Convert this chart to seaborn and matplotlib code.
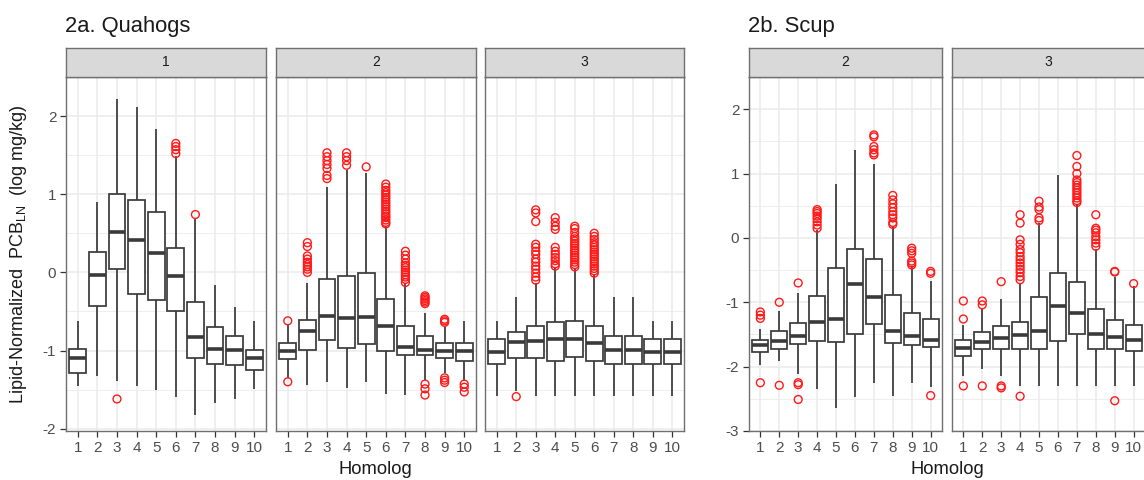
import numpy as np
import pandas as pd
import matplotlib
matplotlib.use("Agg")
import matplotlib.pyplot as plt
import seaborn as sns

# Homolog categories on the x axis
HOMOLOG = list(range(1, 11))

# Box summaries (log mg/kg):
# lower whisker, Q1, median, Q3, upper whisker, and outliers per homolog

# 2a. Quahogs, level 1
qh1_lo = [-1.46, -1.32, -1.39, -1.45, -1.50, -1.60, -1.83, -1.67, -1.62, -1.49]
qh1_q1 = [-1.29, -0.43, 0.04, -0.28, -0.35, -0.50, -1.10, -1.17, -1.19, -1.25]
qh1_med = [-1.10, -0.03, 0.52, 0.41, 0.25, -0.05, -0.83, -0.98, -0.99, -1.09]
qh1_q3 = [-0.985, 0.26, 1.00, 0.93, 0.77, 0.31, -0.38, -0.70, -0.81, -0.99]
qh1_hi = [-0.62, 0.90, 2.22, 2.11, 1.84, 1.49, 0.68, -0.16, -0.44, -0.62]
qh1_out = [[], [], [-1.62], [], [], [1.52, 1.57, 1.61, 1.65], [0.74], [], [], []]

# 2a. Quahogs, level 2
qh2_lo = [-1.35, -1.44, -1.40, -1.48, -1.40, -1.56, -1.57, -1.38, -1.29, -1.39]
qh2_q1 = [-1.11, -0.99, -0.87, -0.97, -0.92, -1.00, -1.06, -1.06, -1.09, -1.13]
qh2_med = [-1.00, -0.75, -0.56, -0.58, -0.57, -0.68, -0.95, -0.99, -1.00, -1.01]
qh2_q3 = [-0.91, -0.61, -0.08, -0.05, -0.01, -0.34, -0.68, -0.81, -0.91, -0.91]
qh2_hi = [-0.67, -0.13, 1.09, 1.31, 1.27, 0.59, -0.15, -0.52, -0.70, -0.62]
qh2_out = [
    [-0.62, -1.40],
    [0.38, 0.33, 0.21, 0.17, 0.13, 0.10, 0.07, 0.04, 0.00],
    [1.53, 1.48, 1.43, 1.38, 1.33, 1.24, 1.20],
    [1.53, 1.48, 1.43, 1.37],
    [1.35],
    [1.13, 1.09, 1.05, 1.02, 0.99, 0.96, 0.93, 0.90, 0.87, 0.84, 0.81,
     0.78, 0.75, 0.72, 0.70, 0.67, 0.64, 0.62],
    [0.27, 0.22, 0.17, 0.12, 0.09, 0.06, 0.03, 0.00, -0.03, -0.06, -0.09, -0.13],
    [-0.30, -0.32, -0.34, -0.36, -0.38, -0.40, -1.43, -1.49, -1.57],
    [-0.60, -0.62, -0.64, -1.35, -1.38, -1.41],
    [-1.43, -1.47, -1.53],
]

# 2a. Quahogs, level 3
qh3_lo = [-1.58, -1.52, -1.58, -1.58, -1.58, -1.58, -1.58, -1.58, -1.58, -1.58]
qh3_q1 = [-1.17, -1.09, -1.09, -1.13, -1.08, -1.13, -1.17, -1.17, -1.17, -1.17]
qh3_med = [-1.02, -0.89, -0.88, -0.85, -0.85, -0.90, -0.99, -0.99, -1.02, -1.02]
qh3_q3 = [-0.85, -0.76, -0.68, -0.63, -0.62, -0.68, -0.81, -0.81, -0.85, -0.85]
qh3_hi = [-0.62, -0.32, -0.13, 0.06, 0.04, -0.04, -0.32, -0.32, -0.62, -0.62]
qh3_out = [
    [],
    [-1.59],
    [0.80, 0.76, 0.65, 0.36, 0.32, 0.27, 0.23, 0.17, 0.13, 0.08, 0.04,
     -0.01, -0.06, -0.10],
    [0.70, 0.64, 0.59, 0.55, 0.32, 0.27, 0.23, 0.19, 0.15, 0.11, 0.08],
    [0.59, 0.56, 0.51, 0.46, 0.43, 0.40, 0.37, 0.34, 0.31, 0.28, 0.25,
     0.22, 0.19, 0.16, 0.13, 0.10, 0.07],
    [0.50, 0.46, 0.42, 0.38, 0.35, 0.32, 0.29, 0.26, 0.23, 0.20, 0.17,
     0.14, 0.11, 0.08, 0.05, 0.02, -0.01],
    [], [], [], [],
]

# 2b. Scup, level 2
sc2_lo = [-1.97, -1.91, -2.12, -2.35, -2.64, -2.47, -2.25, -2.45, -2.25, -2.31]
sc2_q1 = [-1.77, -1.73, -1.65, -1.60, -1.62, -1.49, -1.33, -1.63, -1.67, -1.69]
sc2_med = [-1.66, -1.60, -1.52, -1.31, -1.26, -0.72, -0.92, -1.45, -1.52, -1.58]
sc2_q3 = [-1.59, -1.45, -1.32, -0.91, -0.46, -0.17, -0.33, -0.88, -1.16, -1.26]
sc2_hi = [-1.41, -1.14, -0.85, 0.12, 0.84, 1.37, 1.15, 0.18, -0.44, -0.67]
sc2_out = [
    [-1.15, -1.20, -1.25, -2.25],
    [-1.00, -2.29],
    [-0.70, -2.25, -2.28, -2.51],
    [0.44, 0.41, 0.38, 0.34, 0.30, 0.25, 0.20, 0.15],
    [],
    [],
    [1.60, 1.57, 1.42, 1.37, 1.32, 1.29],
    [0.66, 0.59, 0.53, 0.47, 0.41, 0.36, 0.31, 0.24, 0.21],
    [-0.16, -0.20, -0.24, -0.36, -0.39, -0.42],
    [-0.52, -0.55, -2.45],
]

# 2b. Scup, level 3
sc3_lo = [-2.15, -2.03, -2.15, -2.30, -2.30, -2.30, -2.30, -2.30, -2.30, -2.30]
sc3_q1 = [-1.83, -1.72, -1.72, -1.72, -1.72, -1.60, -1.50, -1.72, -1.72, -1.76]
sc3_med = [-1.71, -1.62, -1.55, -1.51, -1.45, -1.06, -1.17, -1.50, -1.54, -1.58]
sc3_q3 = [-1.59, -1.46, -1.37, -1.30, -0.92, -0.55, -0.68, -1.10, -1.28, -1.35]
sc3_hi = [-1.36, -1.11, -0.95, -0.70, 0.23, 0.98, 0.53, -0.18, -0.60, -0.75]
sc3_out = [
    [-0.98, -1.26, -2.30],
    [-0.98, -1.04, -2.30],
    [-0.68, -2.30, -2.33],
    [0.36, 0.23, -0.03, -0.10, -0.18, -0.23, -0.29, -0.34, -0.39, -0.44,
     -0.49, -0.54, -0.60, -0.65, -2.46],
    [0.57, 0.48, 0.44, 0.31, 0.27],
    [],
    [1.28, 1.11, 1.00, 0.90, 0.86, 0.82, 0.78, 0.74, 0.70, 0.66, 0.62, 0.58, 0.55],
    [0.36, 0.15, 0.12, 0.08, 0.02, -0.03, -0.08, -0.13],
    [-0.52, -0.53, -2.53],
    [-0.71],
]

# Style (ggplot theme_bw look)
sns.set_style("white")
plt.rcParams["font.family"] = ["Liberation Sans", "DejaVu Sans"]
plt.rcParams["mathtext.fontset"] = "custom"
plt.rcParams["mathtext.rm"] = "Liberation Sans"
plt.rcParams["mathtext.it"] = "Liberation Sans:italic"

LINE = "#3A3A3A"
BORDER = "#707070"
GRID = "#EBEBEB"
TICKTXT = "#4D4D4D"

W, H = 1144, 480
fig = plt.figure(figsize=(W / 100, H / 100), dpi=100)


def px_axes(x0, x1, y0, y1):
    return fig.add_axes([x0 / W, 1 - y1 / H, (x1 - x0) / W, (y1 - y0) / H])


def draw_panel(x0, x1, lo, q1, med, q3, hi, out, ylim, yticks, label, show_y):
    ax = px_axes(x0, x1, 77, 431)
    hom = np.repeat(HOMOLOG, 5)
    vals = np.column_stack([lo, q1, med, q3, hi]).ravel()
    df = pd.DataFrame({"homolog": hom, "value": vals})
    sns.boxplot(data=df, x="homolog", y="value", ax=ax, native_scale=True,
                whis=np.inf, width=0.85, color="white", linecolor=LINE,
                linewidth=1.25, showfliers=False,
                medianprops={"linewidth": 2.6}, capwidths=0)
    ox = [h for h, pts in zip(HOMOLOG, out) for _ in pts]
    oy = [v for pts in out for v in pts]
    sns.scatterplot(x=ox, y=oy, ax=ax, marker="o", s=32, facecolor="none",
                    edgecolor="#FF1A1A", linewidth=1.0, zorder=3)

    ax.set_xlim(0.4, 10.6)
    ax.set_ylim(*ylim)
    ax.set_xticks(HOMOLOG)
    ax.set_xticklabels([str(h) for h in HOMOLOG])
    ax.set_yticks(yticks)
    ax.set_yticklabels([str(t) for t in yticks])
    ax.set_yticks([t + 0.5 for t in yticks], minor=True)
    ax.set_xlabel("")
    ax.set_ylabel("")
    ax.set_axisbelow(True)
    ax.grid(which="major", color=GRID, linewidth=1.1)
    ax.grid(which="minor", axis="y", color=GRID, linewidth=0.6)
    for s in ax.spines.values():
        s.set_color(BORDER)
        s.set_linewidth(1.0)
    ax.tick_params(which="major", length=4, width=0.9, color="#333333",
                   labelsize=11, labelcolor=TICKTXT, pad=3,
                   bottom=True, left=show_y, labelleft=show_y)
    ax.tick_params(which="minor", length=0)

    st = px_axes(x0, x1, 48, 77)
    st.set_facecolor("#D9D9D9")
    st.set_xticks([])
    st.set_yticks([])
    for s in st.spines.values():
        s.set_color(BORDER)
        s.set_linewidth(1.0)
    st.text(0.5, 0.5, label, ha="center", va="center", fontsize=10,
            color="#1A1A1A", transform=st.transAxes)
    return ax


q_lim = (-2.03, 2.44)
q_ticks = [-2, -1, 0, 1, 2]
draw_panel(66, 266, qh1_lo, qh1_q1, qh1_med, qh1_q3, qh1_hi, qh1_out,
           q_lim, q_ticks, "1", True)
draw_panel(276, 476, qh2_lo, qh2_q1, qh2_med, qh2_q3, qh2_hi, qh2_out,
           q_lim, q_ticks, "2", False)
draw_panel(485, 684, qh3_lo, qh3_q1, qh3_med, qh3_q3, qh3_hi, qh3_out,
           q_lim, q_ticks, "3", False)

s_lim = (-3.0, 2.5)
s_ticks = [-3, -2, -1, 0, 1, 2]
draw_panel(749, 942, sc2_lo, sc2_q1, sc2_med, sc2_q3, sc2_hi, sc2_out,
           s_lim, s_ticks, "2", True)
draw_panel(952, 1145, sc3_lo, sc3_q1, sc3_med, sc3_q3, sc3_hi, sc3_out,
           s_lim, s_ticks, "3", False)

# Titles and axis labels
fig.text(65 / W, 1 - 32 / H, "2a. Quahogs", fontsize=15.8, color="#1A1A1A",
         ha="left", va="baseline")
fig.text(748 / W, 1 - 32 / H, "2b. Scup", fontsize=15.8, color="#1A1A1A",
         ha="left", va="baseline")
fig.text(375 / W, 1 - 469 / H, "Homolog", fontsize=13.2, color="#1A1A1A",
         ha="center", va="center")
fig.text(947 / W, 1 - 469 / H, "Homolog", fontsize=13.2, color="#1A1A1A",
         ha="center", va="center")
fig.text(19 / W, 1 - 254 / H,
         r"Lipid-Normalized  PCB$_{\mathregular{LN}}$  (log mg/kg)",
         fontsize=13, color="#1A1A1A", rotation=90,
         ha="center", va="center")

fig.savefig("out.png", dpi=100)
